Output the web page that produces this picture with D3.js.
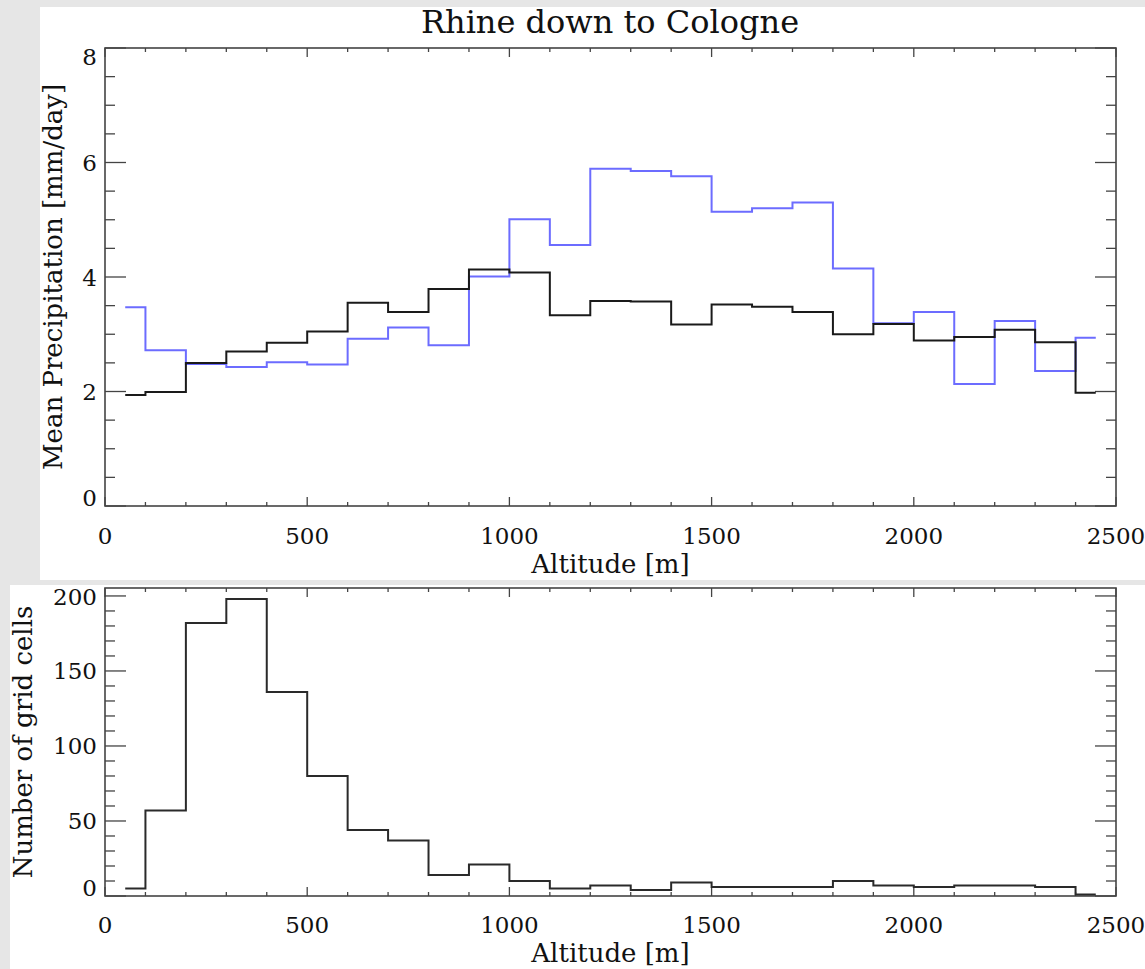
<!DOCTYPE html>
<html>
<head>
<meta charset="utf-8">
<script src="https://cdn.jsdelivr.net/npm/d3@7"></script>
<style>
  html, body { margin: 0; padding: 0; background: #e6e6e6; }
  svg { display: block; }
  text { font-family: "DejaVu Serif", "Liberation Serif", serif; fill: #111; }
</style>
</head>
<body>
<svg id="chart" width="1145" height="969"></svg>
<script>
// ---- data ----
const title = "Rhine down to Cologne";
const altitudeCenters = [50,150,250,350,450,550,650,750,850,950,1050,1150,1250,1350,1450,1550,1650,1750,1850,1950,2050,2150,2250,2350,2450];
const precipBlue  = [3.47,2.72,2.48,2.43,2.51,2.47,2.92,3.12,2.81,4.01,5.01,4.56,5.89,5.85,5.76,5.14,5.20,5.30,4.15,3.19,3.39,2.13,3.23,2.36,2.94];
const precipBlack = [1.94,1.99,2.50,2.70,2.85,3.05,3.55,3.39,3.79,4.13,4.08,3.33,3.58,3.57,3.17,3.52,3.48,3.39,3.00,3.18,2.89,2.95,3.08,2.86,1.98];
const gridCells   = [5,57,182,198,136,80,44,37,14,21,10,5,7,4,9,6,6,6,10,7,6,7,7,6,1];
const xTickLabels = [0,500,1000,1500,2000,2500];
const yTickLabelsTop = [0,2,4,6,8];
const yTickLabelsBottom = [0,50,100,150,200];

const svg = d3.select("#chart");

// panels (white backgrounds)
const panels = [
  {id:"p1", x:40, y:7, w:1105, h:573},
  {id:"p2", x:10, y:585, w:1135, h:384}
];
const defs = svg.append("defs");
panels.forEach(p => {
  svg.append("rect").attr("x",p.x).attr("y",p.y).attr("width",p.w).attr("height",p.h).attr("fill","#fff");
  defs.append("clipPath").attr("id","clip-"+p.id).append("rect")
    .attr("x",p.x).attr("y",p.y).attr("width",p.w).attr("height",p.h);
});

const x = d3.scaleLinear().domain([0,2500]).range([105,1116]);
const yTop = d3.scaleLinear().domain([0,8]).range([506,48]);
const yBot = d3.scaleLinear().domain([0,205.3]).range([896,588]);

const axisColor = "#444";

function drawFrame(g, y, yMinorStep, yMajor, yTickVals, yLabelBaselineX, yLabel, xLabelBaseline, xTickBaseline) {
  const [x0,x1] = x.range();
  const [yb,yt] = y.range();
  // ticks - x (bottom & top, inward)
  const xMinor = d3.range(0, 2501, 100);
  xMinor.forEach(v => {
    const len = (v % 500 === 0) ? 9 : 4;
    g.append("line").attr("x1",x(v)).attr("x2",x(v)).attr("y1",yb).attr("y2",yb-len)
      .attr("stroke",axisColor).attr("stroke-width",1.3);
    g.append("line").attr("x1",x(v)).attr("x2",x(v)).attr("y1",yt).attr("y2",yt+len)
      .attr("stroke",axisColor).attr("stroke-width",1.3);
  });
  // ticks - y (left & right, inward)
  const d = y.domain();
  const nMinor = Math.floor(d[1]/yMinorStep + 1e-9);
  for (let i = 0; i <= nMinor; i++) {
    const v = i*yMinorStep;
    const isMajor = Math.abs(v/yMajor - Math.round(v/yMajor)) < 1e-6;
    const len = isMajor ? 21 : 10;
    g.append("line").attr("x1",x0).attr("x2",x0+len).attr("y1",y(v)).attr("y2",y(v))
      .attr("stroke",axisColor).attr("stroke-width",1.3);
    g.append("line").attr("x1",x1).attr("x2",x1-len).attr("y1",y(v)).attr("y2",y(v))
      .attr("stroke",axisColor).attr("stroke-width",1.3);
  }
  // box
  g.append("rect").attr("x",x0).attr("y",yt).attr("width",x1-x0).attr("height",yb-yt)
    .attr("fill","none").attr("stroke",axisColor).attr("stroke-width",1.6);

  // x tick labels
  g.selectAll(null).data(xTickLabels).enter().append("text")
    .attr("x", v => x(v)).attr("y", xTickBaseline)
    .attr("text-anchor","middle").attr("font-size",23).text(v => v);

  // y tick labels (clamped within axis range like IDL)
  const half = 8.5;
  g.selectAll(null).data(yTickVals).enter().append("text")
    .attr("x", 97)
    .attr("y", v => {
      let c = y(v);
      c = Math.max(yt + half, Math.min(yb - half, c));
      return c + half;
    })
    .attr("text-anchor","end").attr("font-size",23).text(v => v);

  // axis titles
  g.append("text").attr("x", (x0+x1)/2).attr("y", xLabelBaseline)
    .attr("text-anchor","middle").attr("font-size",26).text("Altitude [m]");
  g.append("text")
    .attr("transform", `translate(${yLabelBaselineX},${(yt+yb)/2}) rotate(-90)`)
    .attr("text-anchor","middle").attr("font-size",26).text(yLabel);
}

// ---- top panel ----
const g1 = svg.append("g").attr("clip-path","url(#clip-p1)");
g1.append("text").attr("x", 610).attr("y", 33).attr("text-anchor","middle")
  .attr("font-size",32).text(title);
drawFrame(g1, yTop, 0.5, 2, yTickLabelsTop, 62, "Mean Precipitation [mm/day]", 573, 544);

const lineTop = d3.line().curve(d3.curveStep)
  .x((d,i) => x(altitudeCenters[i])).y(d => yTop(d));
g1.append("path").datum(precipBlue).attr("d", lineTop)
  .attr("fill","none").attr("stroke","#6c6cff").attr("stroke-width",2);
g1.append("path").datum(precipBlack).attr("d", lineTop)
  .attr("fill","none").attr("stroke","#1a1a1a").attr("stroke-width",2);

// ---- bottom panel ----
const g2 = svg.append("g").attr("clip-path","url(#clip-p2)");
drawFrame(g2, yBot, 10, 50, yTickLabelsBottom, 32, "Number of grid cells", 962, 933);

const lineBot = d3.line().curve(d3.curveStep)
  .x((d,i) => x(altitudeCenters[i])).y(d => yBot(d));
g2.append("path").datum(gridCells).attr("d", lineBot)
  .attr("fill","none").attr("stroke","#2a2a2a").attr("stroke-width",2);
</script>
</body>
</html>
